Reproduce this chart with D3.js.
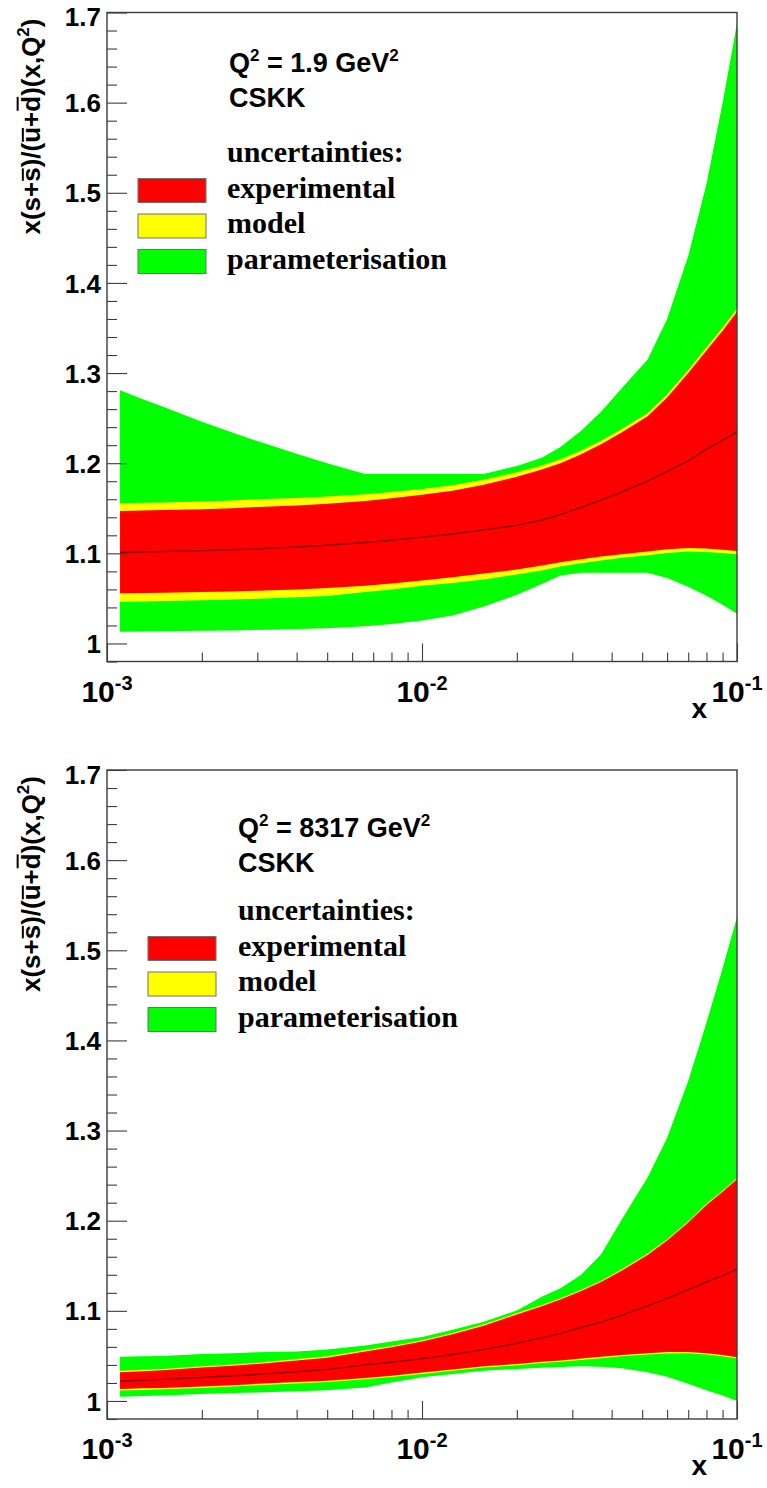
<!DOCTYPE html>
<html>
<head>
<meta charset="utf-8">
<script src="https://cdn.jsdelivr.net/npm/d3@7"></script>
<style>
  body { margin: 0; background: #fff; }
  svg { display: block; }
</style>
</head>
<body>
<svg id="chart" width="767" height="1488"></svg>
<script>
// x grid shared by every band boundary
const xGrid = [0.0011, 0.0013, 0.0015, 0.002, 0.0025, 0.003, 0.004, 0.005, 0.0066, 0.008,
               0.01, 0.0125, 0.0157, 0.02, 0.024, 0.0275, 0.032, 0.037, 0.043, 0.052,
               0.06, 0.07, 0.08, 0.09, 0.1];

// Q^2 = 1.9 GeV^2
const lowCentral = [1.101, 1.1015, 1.102, 1.103, 1.104, 1.105, 1.107, 1.109, 1.112, 1.1145,
                    1.118, 1.1215, 1.126, 1.131, 1.137, 1.143, 1.151, 1.159, 1.168, 1.180,
                    1.191, 1.2025, 1.2155, 1.2255, 1.2345];
const lowExpHi = [1.147, 1.1475, 1.148, 1.149, 1.150, 1.1515, 1.153, 1.155, 1.158, 1.161,
                  1.165, 1.1695, 1.176, 1.185, 1.193, 1.200, 1.210, 1.221, 1.234, 1.252,
                  1.273, 1.300, 1.325, 1.347, 1.368];
const lowExpLo = [1.0556, 1.056, 1.0563, 1.057, 1.0577, 1.0585, 1.060, 1.0615, 1.064, 1.0665,
                  1.070, 1.0735, 1.0775, 1.082, 1.0865, 1.090, 1.0935, 1.0965, 1.099, 1.102,
                  1.1045, 1.106, 1.1055, 1.104, 1.1025];
const lowModHi = [1.1555, 1.156, 1.1565, 1.1575, 1.1585, 1.160, 1.1615, 1.163, 1.1655, 1.168,
                  1.1715, 1.1755, 1.1815, 1.190, 1.1975, 1.2045, 1.214, 1.225, 1.238, 1.2555,
                  1.2765, 1.3035, 1.3285, 1.3505, 1.3715];
const lowModLo = [1.0463, 1.0467, 1.0471, 1.048, 1.0488, 1.0497, 1.0513, 1.0528, 1.057, 1.060,
                  1.064, 1.067, 1.071, 1.0765, 1.081, 1.0855, 1.089, 1.092, 1.095, 1.098,
                  1.1005, 1.102, 1.1015, 1.1005, 1.099];
const lowParHi = [1.281, 1.271, 1.263, 1.246, 1.234, 1.2245, 1.2105, 1.200, 1.188, 1.188,
                  1.188, 1.188, 1.188, 1.197, 1.206, 1.218, 1.236, 1.257, 1.283, 1.315,
                  1.360, 1.430, 1.510, 1.600, 1.688];
const lowParLo = [1.013, 1.0133, 1.0136, 1.014, 1.0145, 1.015, 1.016, 1.017, 1.019, 1.0215,
                  1.0255, 1.031, 1.041, 1.054, 1.066, 1.0755, 1.0785, 1.0785, 1.0785, 1.0785,
                  1.0725, 1.063, 1.053, 1.043, 1.033];

// Q^2 = 8317 GeV^2
const highCentral = [1.022, 1.023, 1.024, 1.026, 1.028, 1.0295, 1.0325, 1.035, 1.040, 1.043,
                     1.047, 1.0515, 1.057, 1.064, 1.070, 1.075, 1.0815, 1.0875, 1.095, 1.1055,
                     1.1135, 1.1235, 1.132, 1.139, 1.146];
const highExpHi = [1.032, 1.033, 1.034, 1.037, 1.039, 1.041, 1.045, 1.048, 1.055, 1.0595,
                   1.066, 1.074, 1.0835, 1.096, 1.105, 1.1125, 1.122, 1.132, 1.1445, 1.162,
                   1.178, 1.198, 1.2175, 1.232, 1.246];
const highExpLo = [1.0133, 1.014, 1.0145, 1.016, 1.0175, 1.019, 1.021, 1.0225, 1.0255, 1.028,
                   1.0315, 1.035, 1.0385, 1.041, 1.0435, 1.045, 1.047, 1.049, 1.051, 1.053,
                   1.0542, 1.0544, 1.053, 1.051, 1.0485];
const highModHi = [1.0335, 1.0345, 1.0355, 1.0385, 1.0405, 1.0425, 1.0465, 1.0495, 1.0565, 1.061,
                   1.0675, 1.0755, 1.085, 1.0975, 1.1065, 1.114, 1.1235, 1.1335, 1.146, 1.1635,
                   1.1795, 1.1995, 1.219, 1.2335, 1.2475];
const highModLo = [1.0115, 1.0123, 1.013, 1.0145, 1.016, 1.0175, 1.0195, 1.021, 1.024, 1.0265,
                   1.030, 1.0335, 1.037, 1.0395, 1.042, 1.0435, 1.0455, 1.0475, 1.0495, 1.0515,
                   1.0527, 1.0529, 1.0515, 1.0495, 1.047];
const highParHi = [1.049, 1.0495, 1.050, 1.052, 1.053, 1.054, 1.055, 1.057, 1.0615, 1.066,
                   1.071, 1.079, 1.088, 1.1005, 1.1155, 1.125, 1.140, 1.1625, 1.201, 1.248,
                   1.292, 1.355, 1.42, 1.48, 1.537];
const highParLo = [1.0048, 1.0055, 1.006, 1.0078, 1.0088, 1.0095, 1.0108, 1.012, 1.015, 1.0205,
                   1.0262, 1.030, 1.0335, 1.0355, 1.0368, 1.0378, 1.0385, 1.038, 1.0362, 1.032,
                   1.027, 1.019, 1.012, 1.006, 1.0];

// axis ticks and labels
const yMajorTicks = [1.0, 1.1, 1.2, 1.3, 1.4, 1.5, 1.6, 1.7];
const yTickLabels = ["1", "1.1", "1.2", "1.3", "1.4", "1.5", "1.6", "1.7"];
const xMajorTicks = [1e-3, 1e-2, 1e-1];
const xTickExponents = ["-3", "-2", "-1"];
const xMinorTicks = [2e-3, 3e-3, 4e-3, 5e-3, 6e-3, 7e-3, 8e-3, 9e-3,
                     2e-2, 3e-2, 4e-2, 5e-2, 6e-2, 7e-2, 8e-2, 9e-2];
const legendHeader = "uncertainties:";
const legendLabels = ["experimental", "model", "parameterisation"];
const legendColors = ["#ff0000", "#ffff00", "#00ff00"];

const SANS = "'Liberation Sans', Arial, Helvetica, sans-serif";
const SERIF = "'Liberation Serif', 'Times New Roman', serif";
const AXIS = "#3c3c3c";

const svg = d3.select("#chart");
svg.append("rect").attr("width", 767).attr("height", 1488).attr("fill", "#fff");

const x = d3.scaleLog().domain([1e-3, 1e-1]).range([107, 737]);

const panels = [
  { top: 12.5, bottom: 661.5, q2: "1.9",
    central: lowCentral, expHi: lowExpHi, expLo: lowExpLo, modHi: lowModHi, modLo: lowModLo,
    parHi: lowParHi, parLo: lowParLo,
    headX: 229, headY: 72, legBoxX: 138, legTextX: 227, legY: 162 },
  { top: 770, bottom: 1419, q2: "8317",
    central: highCentral, expHi: highExpHi, expLo: highExpLo, modHi: highModHi, modLo: highModLo,
    parHi: highParHi, parLo: highParLo,
    headX: 238, headY: 837, legBoxX: 148, legTextX: 238, legY: 920 }
];

panels.forEach(drawPanel);

function drawPanel(p) {
  const y = d3.scaleLinear().domain([0.98, 1.7]).range([p.bottom, p.top]);
  const g = svg.append("g");
  const pts = xGrid.map((xv, i) => ({ x: xv, i }));

  const band = (lo, hi) => d3.area()
    .x(d => x(d.x)).y0(d => y(lo[d.i])).y1(d => y(hi[d.i]));

  g.append("path").datum(pts).attr("d", band(p.parLo, p.parHi)).attr("fill", "#00ff00");
  g.append("path").datum(pts).attr("d", band(p.modLo, p.modHi)).attr("fill", "#ffff00");
  g.append("path").datum(pts).attr("d", band(p.expLo, p.expHi)).attr("fill", "#ff0000");
  g.append("path").datum(pts)
    .attr("d", d3.line().x(d => x(d.x)).y(d => y(p.central[d.i])))
    .attr("fill", "none").attr("stroke", "#8b0000").attr("stroke-width", 1.4);

  // y axis: major ticks with labels, minor ticks every 0.02
  const yMinor = d3.range(49, 86).filter(k => k % 5 !== 0).map(k => k / 50);
  g.append("g").attr("transform", `translate(${x.range()[0]},0)`)
    .call(d3.axisLeft(y).tickValues(yMinor).tickSizeInner(-10).tickSizeOuter(0).tickFormat(""))
    .call(a => a.select(".domain").remove());
  const ya = g.append("g").attr("transform", `translate(${x.range()[0]},0)`)
    .call(d3.axisLeft(y).tickValues(yMajorTicks).tickSizeInner(-20).tickSizeOuter(0)
      .tickPadding(6).tickFormat((d, i) => yTickLabels[i]))
    .call(a => a.select(".domain").remove());
  // the topmost label sits a little lower so it stays inside the page
  ya.selectAll("text").attr("font-family", SANS).attr("font-weight", "bold")
    .attr("font-size", 26).attr("fill", "#000")
    .attr("dy", d => d === 1.7 ? "0.5em" : "0.35em");

  // x axis: log ticks inside the frame
  g.append("g").attr("transform", `translate(0,${p.bottom})`)
    .call(d3.axisBottom(x).tickValues(xMinorTicks).tickSizeInner(-9).tickSizeOuter(0).tickFormat(""))
    .call(a => a.select(".domain").remove());
  g.append("g").attr("transform", `translate(0,${p.bottom})`)
    .call(d3.axisBottom(x).tickValues(xMajorTicks).tickSizeInner(-18).tickSizeOuter(0).tickFormat(""))
    .call(a => a.select(".domain").remove());
  g.selectAll(".tick line").attr("stroke", AXIS).attr("stroke-width", 1.1);

  xMajorTicks.forEach((v, i) => {
    const t = g.append("text").attr("x", x(v)).attr("y", p.bottom + 40)
      .attr("text-anchor", "middle").attr("font-family", SANS).attr("font-weight", "bold")
      .attr("fill", "#000");
    t.append("tspan").attr("font-size", 30).text("10");
    t.append("tspan").attr("font-size", 20).attr("dy", -12).text(xTickExponents[i]);
  });

  g.append("text").attr("x", 707).attr("y", p.bottom + 56).attr("text-anchor", "end")
    .attr("font-family", SANS).attr("font-weight", "bold").attr("font-size", 28).text("x");

  // frame
  g.append("rect").attr("x", x.range()[0]).attr("y", p.top)
    .attr("width", x.range()[1] - x.range()[0]).attr("height", p.bottom - p.top)
    .attr("fill", "none").attr("stroke", AXIS).attr("stroke-width", 1.4);

  // y axis title with overlines
  const tg = g.append("g").attr("transform", `translate(40,${p.top + 6}) rotate(-90)`);
  const tt = tg.append("text").attr("text-anchor", "end").attr("font-family", SANS)
    .attr("font-weight", "bold").attr("font-size", 26).attr("fill", "#000");
  tt.append("tspan").text("x(s+s)/(u+d)(x,Q");
  tt.append("tspan").attr("font-size", 17).attr("dy", -11).text("2");
  tt.append("tspan").attr("dy", 11).text(")");
  const fs = 26;
  [[4, 0.66], [8, 0.66], [10, 0.86]].forEach(([ci, h]) => {
    const e = tt.node().getExtentOfChar(ci);
    tg.append("line").attr("x1", e.x + 1).attr("x2", e.x + e.width - 1)
      .attr("y1", -h * fs).attr("y2", -h * fs)
      .attr("stroke", "#000").attr("stroke-width", 2);
  });

  // header
  const h1 = g.append("text").attr("x", p.headX).attr("y", p.headY)
    .attr("font-family", SANS).attr("font-weight", "bold").attr("font-size", 27).attr("fill", "#000");
  h1.append("tspan").text("Q");
  h1.append("tspan").attr("font-size", 17).attr("dy", -11).text("2");
  h1.append("tspan").attr("dy", 11).text(` = ${p.q2} GeV`);
  h1.append("tspan").attr("font-size", 17).attr("dy", -11).text("2");
  g.append("text").attr("x", p.headX).attr("y", p.headY + 35)
    .attr("font-family", SANS).attr("font-weight", "bold").attr("font-size", 27).text("CSKK");

  // legend
  g.append("text").attr("x", p.legTextX).attr("y", p.legY)
    .attr("font-family", SERIF).attr("font-weight", "bold").attr("font-size", 30).text(legendHeader);
  legendLabels.forEach((lab, i) => {
    const cy = p.legY + 28.5 + i * 35.5;
    g.append("rect").attr("x", p.legBoxX).attr("y", cy - 12).attr("width", 68).attr("height", 24)
      .attr("fill", legendColors[i]).attr("stroke", "#707070").attr("stroke-width", 1);
    g.append("text").attr("x", p.legTextX).attr("y", cy + 7)
      .attr("font-family", SERIF).attr("font-weight", "bold").attr("font-size", 30).text(lab);
  });
}
</script>
</body>
</html>
